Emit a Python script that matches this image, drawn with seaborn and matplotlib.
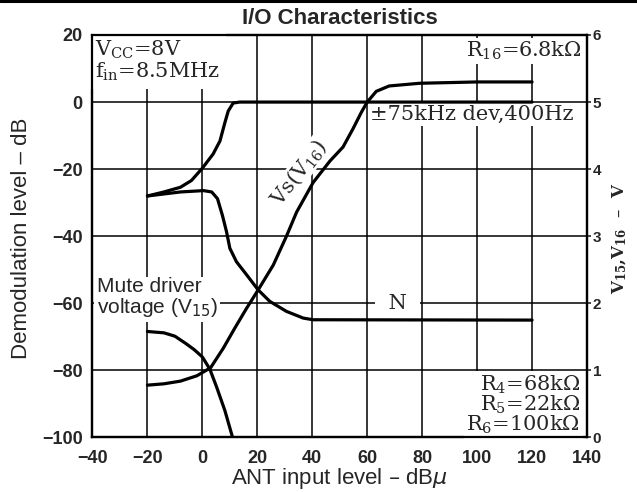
import matplotlib
matplotlib.use("Agg")
import matplotlib.pyplot as plt
from matplotlib.lines import Line2D
import seaborn as sns

# ANT input level (dBu) and demodulated output (dB)
signal_x = [-20, -14, -8, -4, 0, 3.9, 6.4, 8.2, 9.4, 11.2, 13.6, 120]
signal_db = [-28, -26.8, -25.4, -23.4, -19.7, -15.5, -11.6, -6.1, -2.7, -0.3, 0, 0]

noise_x = [-20, -14, -8, 0.4, 3.4, 5.5, 7.3, 8.8, 10, 12.4, 16.1, 20.3, 24.5, 30.6, 36.7, 40.3, 120]
noise_db = [-28, -27.4, -26.8, -26.4, -26.8, -28.8, -33.8, -38.7, -43.6, -47.6, -51.5, -56, -59.4, -62.4, -64.4, -64.9, -65]

# DC voltages on the right-hand axis (V)
vs_x = [-20, -14, -8, -2, 3, 7.6, 11.8, 16, 20.3, 25.8, 30.6, 34.3, 40.3, 46.4, 51.2,
        54.8, 57.9, 60, 63.3, 68, 79, 100, 120]
vs_v = [0.78, 0.80, 0.84, 0.92, 1.04, 1.33, 1.63, 1.92, 2.2, 2.57, 3.0, 3.36, 3.8, 4.12, 4.33,
        4.6, 4.85, 5.0, 5.16, 5.24, 5.28, 5.3, 5.3]

mute_x = [-20, -14, -10, -6, -3, 0, 2.7, 5.2, 8.2, 11]
mute_v = [1.58, 1.56, 1.51, 1.40, 1.31, 1.2, 1.02, 0.75, 0.4, 0.0]

x_ticks = [-40, -20, 0, 20, 40, 60, 80, 100, 120, 140]
db_ticks = [20, 0, -20, -40, -60, -80, -100]
v_ticks = [0, 1, 2, 3, 4, 5, 6]

sns.set_theme(style="white")
plt.rcParams["font.family"] = ["Liberation Sans", "DejaVu Sans"]
plt.rcParams["mathtext.fontset"] = "dejavuserif"

fig = plt.figure(figsize=(6.37, 4.92), dpi=100)
ax = fig.add_axes([0.1452, 0.1108, 0.7763, 0.8181])
ax2 = ax.twinx()

lw_curve = 2.3
sns.lineplot(x=signal_x, y=signal_db, ax=ax, color="black", lw=lw_curve, sort=False, zorder=5)
sns.lineplot(x=noise_x, y=noise_db, ax=ax, color="black", lw=lw_curve, sort=False, zorder=5)
sns.lineplot(x=vs_x, y=vs_v, ax=ax2, color="black", lw=lw_curve, sort=False, zorder=5)
sns.lineplot(x=mute_x, y=mute_v, ax=ax2, color="black", lw=lw_curve, sort=False, zorder=5)

ax.set_xlim(-40, 140)
ax.set_ylim(-100, 20)
ax2.set_ylim(0, 6)
ax.set_xticks(x_ticks)
ax.set_yticks(db_ticks)
ax2.set_yticks(v_ticks)

ax.set_axisbelow(True)
ax.grid(True, color="black", lw=1.1)
ax2.grid(False)

for a in (ax, ax2):
    for s in a.spines.values():
        s.set_color("black")
        s.set_linewidth(1.6)

ax.tick_params(axis="both", length=0, labelsize=13, pad=7)
ax.tick_params(axis="x", pad=9)
ax2.tick_params(axis="y", length=3, width=1.2, labelsize=11, pad=1, direction="out")
for lab in ax.get_xticklabels() + ax.get_yticklabels() + ax2.get_yticklabels():
    lab.set_fontweight("bold")

ax.set_xlabel("")
ax.set_ylabel("")
fig.text(0.5334, 0.963, "I/O Characteristics", ha="center", va="center",
         fontsize=16, fontweight="bold")
fig.text(0.5334, 0.028, "ANT input level – dB$\\mu$", ha="center", va="center",
         fontsize=16, math_fontfamily="dejavusans")
fig.text(0.033, 0.516, "Demodulation level – dB", rotation=90, ha="center", va="center",
         fontsize=16)
fig.text(0.973, 0.516, "V$_{\\mathbf{15}}$,V$_{\\mathbf{16}}$  –  V", rotation=90,
         ha="center", va="center", fontsize=12, fontweight="bold", family="DejaVu Serif")

# frame line along the top edge
fig.add_artist(Line2D([0, 1], [0.997, 0.997], color="black", lw=2.2, transform=fig.transFigure))

box = dict(facecolor="white", edgecolor="none", pad=1.5)
serif = dict(family="DejaVu Serif", fontsize=15, zorder=3)

ax.text(-39, 19, "V$_\\mathrm{CC}$=8V\nf$_\\mathrm{in}$=8.5MHz", ha="left", va="top",
        linespacing=1.0, bbox=dict(facecolor="white", edgecolor="none", pad=4), **serif)
ax.text(138, 18.5, "R$_\\mathrm{16}$=6.8k$\\Omega$", ha="right", va="top", bbox=box, **serif)
ax.text(61, -3.8, "±75kHz dev,400Hz", ha="left", va="center", bbox=box, **serif)
ax.text(71, -60, " N ", ha="center", va="center",
        bbox=dict(facecolor="white", edgecolor="none", pad=5), **serif)
ax.text(137.5, -99.5, "R$_\\mathrm{4}$=68k$\\Omega$\nR$_\\mathrm{5}$=22k$\\Omega$\nR$_\\mathrm{6}$=100k$\\Omega$",
        ha="right", va="bottom", linespacing=0.85,
        bbox=dict(facecolor="white", edgecolor="none", pad=2), **serif)
ax.text(35, -21, "Vs(V$_\\mathrm{16}$)", ha="center", va="center", rotation=52,
        bbox=dict(facecolor="white", edgecolor="none", pad=0.5), **serif)
ax.text(-38.5, -58.5, "Mute driver\nvoltage (V$_{15}$)", ha="left", va="center",
        fontsize=15, linespacing=1.0, zorder=3, math_fontfamily="dejavusans",
        bbox=dict(facecolor="white", edgecolor="none", pad=2))

fig.savefig("out.png", dpi=100)
